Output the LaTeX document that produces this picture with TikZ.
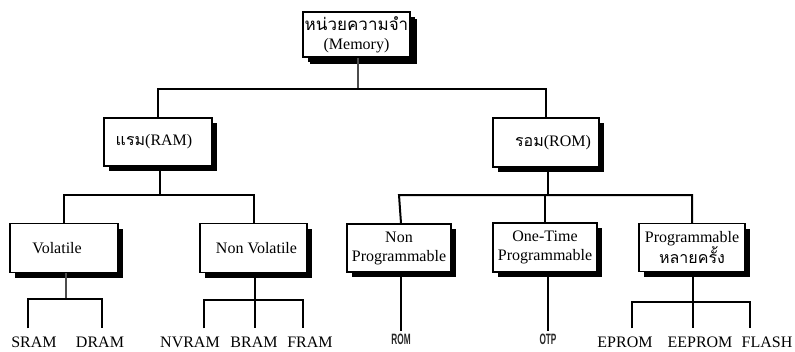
\documentclass[tikz,border=0pt]{standalone}
\usepackage{fontspec}
\setmainfont{Liberation Serif}
\newfontfamily\thaifont[Script=Thai]{Loma}
\newfontfamily\sansfont{Liberation Sans}
\usetikzlibrary{shadows}
\begin{document}
\begin{tikzpicture}[x=1pt,y=-1pt,
  box/.style={draw, line width=1.5pt, fill=white, inner sep=0pt, align=center,
    font=\fontsize{16}{19}\selectfont,
    drop shadow={shadow xshift=5pt, shadow yshift=-5pt, fill=black, opacity=1}},
  rootbox/.style={box, drop shadow={shadow xshift=7pt, shadow yshift=-7pt, fill=black, opacity=1}},
  bar/.style={line width=2pt},
  thinline/.style={line width=1.2pt, black!70},
  leaf/.style={anchor=base, inner sep=0pt, outer ysep=8pt, font=\fontsize{16}{16}\selectfont},
  sleaf/.style={anchor=base, inner sep=0pt, outer ysep=3pt, black!85,
    font=\sansfont\bfseries\fontsize{15}{15}\selectfont}
]
\useasboundingbox (0,0) rectangle (795,351);
% level 0
\node[rootbox, minimum width=107pt, minimum height=45pt] (root) at (356.5,34.5)
  {{\thaifont\fontsize{17}{17}\selectfont หน่วยความจำ}\\(Memory)};
% level 1
\node[box, minimum width=108pt, minimum height=48pt] (ram) at (158,142)
  {{\thaifont แรม}(RAM)\hspace{8pt}};
\node[box, minimum width=106pt, minimum height=49pt] (rom) at (546,142.5)
  {\hspace{14pt}{\thaifont รอม}(ROM)};
% level 2
\node[box, minimum width=108pt, minimum height=49pt] (vol) at (64,248)
  {Volatile\hspace{14pt}};
\node[box, minimum width=107pt, minimum height=49pt] (nvol) at (253.5,248)
  {\hspace{6pt}Non Volatile};
\node[box, minimum width=104pt, minimum height=48pt] (nprog) at (399,248)
  {Non\\Programmable};
\node[box, minimum width=104pt, minimum height=49pt] (otp) at (545,247.5)
  {One-Time\\Programmable};
\node[box, minimum width=106pt, minimum height=48pt] (prog) at (692,247.5)
  {Programmable\\{\thaifont หลายครั้ง}};
% leaves
\node[leaf] (sram) at (34,347) {SRAM};
\node[leaf] (dram) at (100,347) {DRAM};
\node[leaf] (nvram) at (190,347) {NVRAM};
\node[leaf] (bram) at (254,347) {BRAM};
\node[leaf] (fram) at (310,347) {FRAM};
\node[sleaf] (romleaf) at (401,344) {\scalebox{0.55}[1]{ROM}};
\node[sleaf] (otpleaf) at (548,344) {\scalebox{0.55}[1]{OTP}};
\node[leaf] (eprom) at (625,347) {EPROM};
\node[leaf] (eeprom) at (700,347) {EEPROM};
\node[leaf] (flash) at (767,347) {FLASH};
% junctions
\coordinate (j0) at (358,89);
\coordinate (j1) at (160,195);
\coordinate (j2) at (548,195);
\coordinate (j3) at (66,299);
\coordinate (j4) at (255,300);
\coordinate (j5) at (693,302);
% connectors
\draw[thinline] (root.south -| j0) -- (j0);
\draw[bar] (ram.north) -- (ram.north |- j0) -- (rom.north |- j0) -- (rom.north);
\draw[bar] (ram.south -| j1) -- (j1);
\draw[bar] (vol.north) -- (vol.north |- j1) -- (nvol.north |- j1) -- (nvol.north);
\draw[bar] (rom.south -| j2) -- (j2);
\draw[bar] (nprog.north -| romleaf) -- (nprog.north |- j2) -- (prog.north |- j2) -- (prog.north);
\draw[bar] (otp.north) -- (otp.north |- j2);
\draw[thinline] (vol.south -| j3) -- (j3);
\draw[bar] ([xshift=-6pt]sram.north) -- ([xshift=-6pt]sram.north |- j3) -- ([xshift=2pt]dram.north |- j3) -- ([xshift=2pt]dram.north);
\draw[bar] (nvol.south -| j4) -- (bram.north -| j4);
\draw[bar] ([xshift=14pt]nvram.north) -- ([xshift=14pt]nvram.north |- j4) -- ([xshift=-7pt]fram.north |- j4) -- ([xshift=-7pt]fram.north);
\draw[bar] (nprog.south -| romleaf) -- (romleaf.north);
\draw[bar] (otp.south -| otpleaf) -- (otpleaf.north);
\draw[bar] (prog.south -| j5) -- (eeprom.north -| j5);
\draw[bar] ([xshift=7pt]eprom.north) -- ([xshift=7pt]eprom.north |- j5) -- ([xshift=-17pt]flash.north |- j5) -- ([xshift=-17pt]flash.north);
\end{tikzpicture}
\end{document}
